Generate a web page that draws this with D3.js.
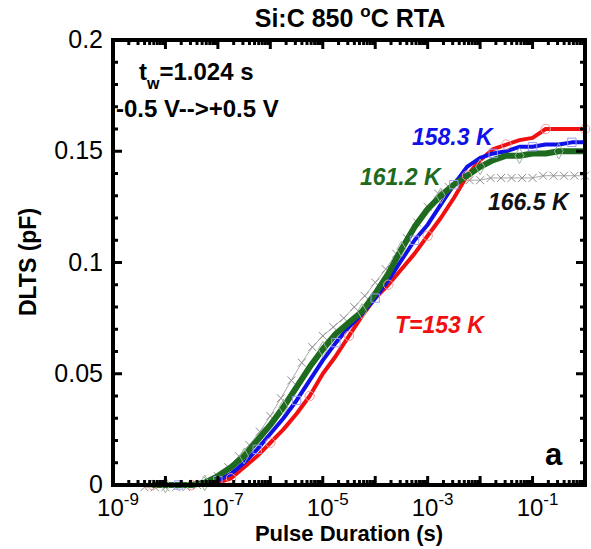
<!DOCTYPE html>
<html>
<head>
<meta charset="utf-8">
<title>Si:C 850 C RTA DLTS</title>
<script src="https://d3js.org/d3.v7.min.js"></script>
<style>
  body { margin: 0; background: #fff; }
  text { font-family: "Liberation Sans", Arial, sans-serif; }
</style>
</head>
<body>
<script>
// log10 of pulse duration (s)
var logT = [-8.25, -8, -7.75, -7.5, -7.25, -7, -6.75, -6.5, -6.25, -6, -5.75, -5.5, -5.25, -5,
            -4.75, -4.5, -4.25, -4, -3.75, -3.5, -3.25, -3, -2.75, -2.5, -2.25, -2, -1.75, -1.5,
            -1.25, -1, -0.75, -0.5, -0.25, 0];

var red153   = [0, 0, 0, 0, 0, 0.001, 0.003, 0.008, 0.013, 0.019, 0.025, 0.032, 0.040, 0.050,
                0.058, 0.067, 0.076, 0.084, 0.090, 0.097, 0.104, 0.112, 0.120, 0.129, 0.139, 0.146,
                0.151, 0.153, 0.155, 0.156, 0.160, 0.160, 0.160, 0.160];
var blue158  = [0, 0, 0, 0, 0, 0.002, 0.005, 0.010, 0.016, 0.023, 0.030, 0.038, 0.047, 0.056,
                0.064, 0.071, 0.077, 0.084, 0.092, 0.101, 0.110, 0.117, 0.126, 0.135, 0.143, 0.147,
                0.149, 0.150, 0.152, 0.152, 0.153, 0.153, 0.154, 0.154];
var green161 = [0, 0, 0, 0, 0.001, 0.004, 0.008, 0.013, 0.020, 0.027, 0.035, 0.044, 0.053, 0.061,
                0.068, 0.073, 0.078, 0.086, 0.095, 0.106, 0.116, 0.124, 0.130, 0.135, 0.139, 0.143,
                0.146, 0.148, 0.148, 0.149, 0.149, 0.150, 0.150, 0.150];

// 166.5 K trace is sampled more densely
var logTGray = [-8.4, -8.2, -8, -7.8, -7.6, -7.4, -7.2, -7, -6.8, -6.6, -6.4, -6.2, -6, -5.8, -5.6,
                -5.4, -5.2, -5, -4.8, -4.6, -4.4, -4.2, -4, -3.8, -3.6, -3.4, -3.2, -3, -2.8, -2.6,
                -2.4, -2.2, -2, -1.8, -1.6, -1.4, -1.2, -1, -0.8, -0.6, -0.4, -0.2, 0];
var gray166  = [-0.001, -0.001, -0.001, -0.001, -0.001, 0, 0.002, 0.004, 0.008, 0.013, 0.018, 0.024,
                0.031, 0.039, 0.047, 0.055, 0.062, 0.067, 0.071, 0.075, 0.080, 0.085, 0.091, 0.097,
                0.104, 0.111, 0.118, 0.125, 0.131, 0.134, 0.136, 0.137, 0.137, 0.138, 0.138, 0.138,
                0.138, 0.138, 0.139, 0.139, 0.139, 0.139, 0.139];

var xTickLabels = [-9, -7, -5, -3, -1];
var yTickValues = [0, 0.05, 0.1, 0.15, 0.2];

var W = 591, H = 549;
var plotL = 113, plotR = 585, plotT = 40, plotB = 485;

var svg = d3.select("body").append("svg")
    .attr("width", W).attr("height", H);

var x = d3.scaleLog().domain([1e-9, 1]).range([plotL, plotR]);
var y = d3.scaleLinear().domain([0, 0.2]).range([plotB, plotT]);

function line(ts, vs) {
  return d3.line()
    .x(function(d, i) { return x(Math.pow(10, ts[i])); })
    .y(function(d) { return y(d); })(vs);
}

// gray trace with x markers
svg.append("path").attr("d", line(logTGray, gray166))
   .attr("fill", "none").attr("stroke", "#aaa").attr("stroke-width", 1);
svg.append("g").selectAll("path").data(gray166).enter().append("path")
   .attr("transform", function(d, i) { return "translate(" + x(Math.pow(10, logTGray[i])) + "," + y(d) + ")"; })
   .attr("d", "M-4,-4L4,4M-4,4L4,-4")
   .attr("stroke", "#8f8f8f").attr("stroke-width", 1).attr("fill", "none");

var series = [
  { v: red153,   color: "#f01010", width: 4, mark: "circle",  mcolor: "#f29a9a" },
  { v: blue158,  color: "#1010e8", width: 4, mark: "square",  mcolor: "#9a9af2" },
  { v: green161, color: "#1e6a1e", width: 6, mark: "diamond", mcolor: "#9ab49a" }
];

series.forEach(function(s) {
  svg.append("path").attr("d", line(logT, s.v))
     .attr("fill", "none").attr("stroke", s.color).attr("stroke-width", s.width)
     .attr("stroke-linejoin", "round");
});

series.forEach(function(s, k) {
  var sym = s.mark === "circle" ? d3.symbolCircle : s.mark === "square" ? d3.symbolSquare : d3.symbolDiamond;
  svg.append("g").selectAll("path")
     .data(s.v.map(function(d, i) { return [logT[i], d]; }).filter(function(d, i) { return (i + k) % 3 === 0; }))
     .enter().append("path")
     .attr("transform", function(d) { return "translate(" + x(Math.pow(10, d[0])) + "," + y(d[1]) + ")"; })
     .attr("d", d3.symbol().type(sym).size(70))
     .attr("fill", "none").attr("stroke", s.mcolor).attr("stroke-width", 1);
});

// frame
svg.append("rect").attr("x", plotL).attr("y", plotT)
   .attr("width", plotR - plotL).attr("height", plotB - plotT)
   .attr("fill", "none").attr("stroke", "#000").attr("stroke-width", 4);

// ticks, inward on all sides
var major = 9, minor = 5;
var xMajor = d3.range(-9, 1).map(function(e) { return Math.pow(10, e); });
var xMinor = [];
d3.range(-9, 0).forEach(function(e) { d3.range(2, 10).forEach(function(m) { xMinor.push(m * Math.pow(10, e)); }); });
var yMinor = d3.range(0, 21).map(function(i) { return i * 0.01; });

var ticks = svg.append("g").attr("stroke", "#000").attr("stroke-width", 3);
[[plotB, -1], [plotT, 1]].forEach(function(p) {
  ticks.selectAll(null).data(xMajor).enter().append("line")
    .attr("x1", x).attr("x2", x).attr("y1", p[0]).attr("y2", p[0] + p[1] * major);
  ticks.selectAll(null).data(xMinor).enter().append("line")
    .attr("x1", x).attr("x2", x).attr("y1", p[0]).attr("y2", p[0] + p[1] * minor);
});
[[plotL, 1], [plotR, -1]].forEach(function(p) {
  ticks.selectAll(null).data(yMinor).enter().append("line")
    .attr("y1", y).attr("y2", y).attr("x1", p[0])
    .attr("x2", function(d, i) { return p[0] + p[1] * (i % 5 === 0 ? major : minor); });
});

// tick labels
svg.append("g").selectAll("text").data(yTickValues).enter().append("text")
   .attr("x", 103).attr("y", function(d) { return y(d) + 8; })
   .attr("text-anchor", "end").attr("font-size", 25)
   .text(function(d) { return d; });

var xl = svg.append("g").selectAll("text").data(xTickLabels).enter().append("text")
   .attr("x", function(d) { return x(Math.pow(10, d)) + 5; }).attr("y", 516)
   .attr("text-anchor", "middle").attr("font-size", 24);
xl.append("tspan").text("10");
xl.append("tspan").attr("dy", -11).attr("font-size", 17).text(function(d) { return d; });

// axis titles
svg.append("text").attr("x", 349).attr("y", 541).attr("text-anchor", "middle")
   .attr("font-size", 22).attr("font-weight", "bold").text("Pulse Duration (s)");
svg.append("text").attr("transform", "translate(36,262) rotate(-90)").attr("text-anchor", "middle")
   .attr("font-size", 23).attr("font-weight", "bold").text("DLTS (pF)");

// title
var title = svg.append("text").attr("x", 350).attr("y", 27).attr("text-anchor", "middle")
   .attr("font-size", 25).attr("font-weight", "bold");
title.append("tspan").text("Si:C 850 ");
title.append("tspan").attr("dy", -10).attr("font-size", 17).text("o");
title.append("tspan").attr("dy", 10).text("C RTA");

// annotations
var tw = svg.append("text").attr("x", 139).attr("y", 80).attr("font-size", 24).attr("font-weight", "bold");
tw.append("tspan").text("t");
tw.append("tspan").attr("dy", 9).attr("font-size", 16).text("w");
tw.append("tspan").attr("dy", -9).text("=1.024 s");
svg.append("text").attr("x", 116).attr("y", 117).attr("font-size", 24).attr("font-weight", "bold")
   .text("-0.5 V-->+0.5 V");

var labels = [
  { t: "158.3 K", x: 412, y: 145, c: "#1010e8" },
  { t: "161.2 K", x: 360, y: 185, c: "#1e6a1e" },
  { t: "166.5 K", x: 488, y: 210, c: "#111" },
  { t: "T=153 K", x: 395, y: 333, c: "#f01010" }
];
labels.forEach(function(l) {
  svg.append("text").attr("x", l.x).attr("y", l.y).attr("font-size", 23)
     .attr("font-weight", "bold").attr("font-style", "italic").attr("fill", l.c).text(l.t);
});

svg.append("text").attr("x", 545).attr("y", 465).attr("font-size", 31)
   .attr("font-weight", "bold").text("a");
</script>
</body>
</html>
